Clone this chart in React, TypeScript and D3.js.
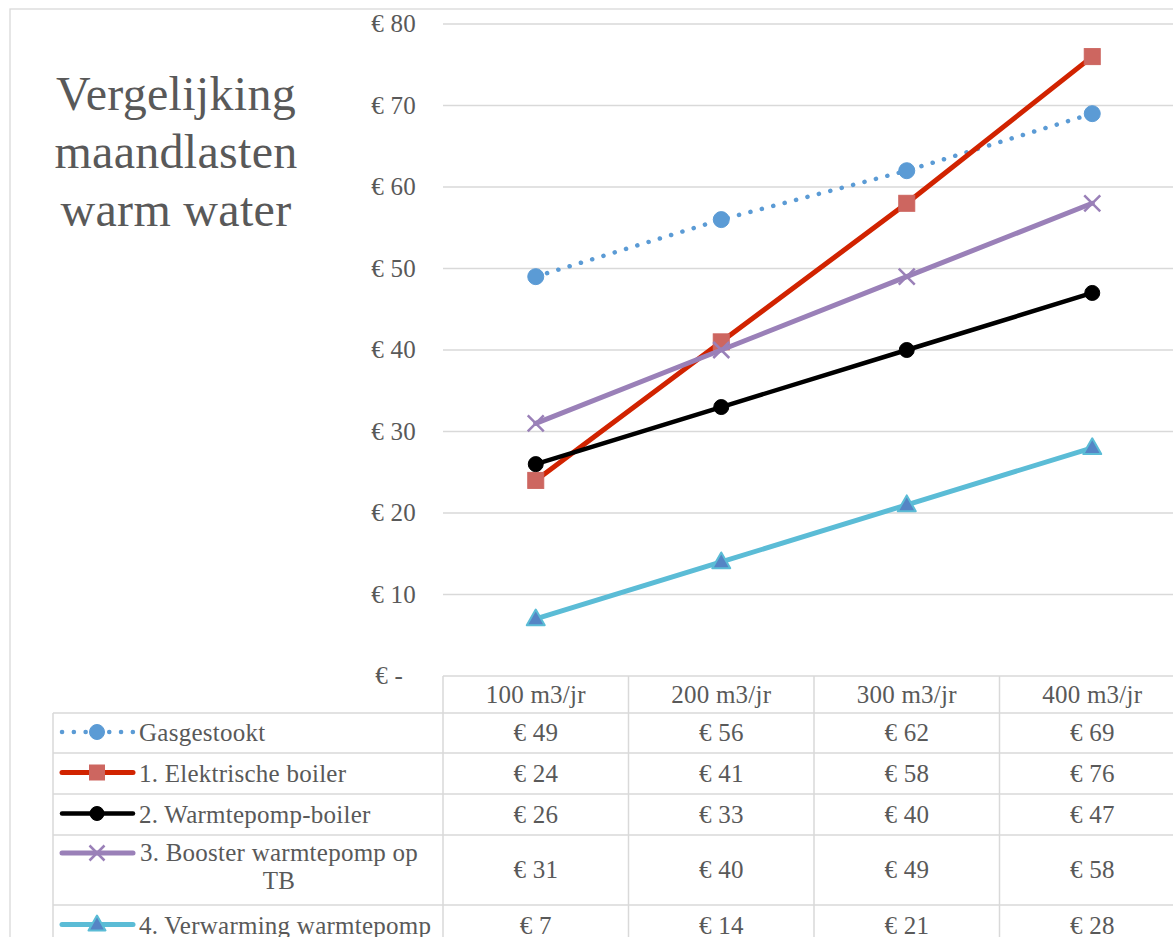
import React from "react";
import * as d3 from "d3";

const categories = ["100 m3/jr", "200 m3/jr", "300 m3/jr", "400 m3/jr"];
const seriesNames = [
  "Gasgestookt",
  "1. Elektrische boiler",
  "2. Warmtepomp-boiler",
  "3. Booster warmtepomp op TB",
  "4. Verwarming warmtepomp",
];
const gasgestookt = [49, 56, 62, 69];
const elektrisch = [24, 41, 58, 76];
const warmtepompBoiler = [26, 33, 40, 47];
const booster = [31, 40, 49, 58];
const verwarming = [7, 14, 21, 28];
const yTicks = [0, 10, 20, 30, 40, 50, 60, 70, 80];
const titleLines = ["Vergelijking", "maandlasten", "warm water"];

type Marker = "circle" | "square" | "x" | "triangle";
const styles: { line: string; marker: Marker; mfill: string; mstroke: string; dotted?: boolean; lw: number; ms: number }[] = [
  { line: "#5b9bd5", marker: "circle", mfill: "#5b9bd5", mstroke: "#5b9bd5", dotted: true, lw: 4.5, ms: 8 },
  { line: "#d12300", marker: "square", mfill: "#cd6660", mstroke: "#cd6660", lw: 5, ms: 8 },
  { line: "#000000", marker: "circle", mfill: "#000000", mstroke: "#000000", lw: 4.5, ms: 7.5 },
  { line: "#9a80b8", marker: "x", mfill: "none", mstroke: "#9a80b8", lw: 5, ms: 8 },
  { line: "#5bbcd6", marker: "triangle", mfill: "#5585c5", mstroke: "#5bbcd6", lw: 5, ms: 9 },
];
const seriesValues = [gasgestookt, elektrisch, warmtepompBoiler, booster, verwarming];

const FONT = "'Liberation Serif', 'Times New Roman', serif";
const TXT = "#595959";
const GRID = "#d9d9d9";
const FS = 25;
const LS = 0.25;

function MarkerShape({ kind, x, y, s, fill, stroke }: { kind: Marker; x: number; y: number; s: number; fill: string; stroke: string }) {
  if (kind === "circle") return <circle cx={x} cy={y} r={s} fill={fill} stroke={stroke} strokeWidth={1} />;
  if (kind === "square") return <rect x={x - s} y={y - s} width={2 * s} height={2 * s} fill={fill} stroke={stroke} strokeWidth={1} />;
  if (kind === "x")
    return (
      <path d={`M${x - s},${y - s}L${x + s},${y + s}M${x - s},${y + s}L${x + s},${y - s}`} stroke={stroke} strokeWidth={2.5} fill="none" />
    );
  const h = s * 1.75;
  return (
    <path d={`M${x},${y - h * 0.6}L${x + s},${y + h * 0.4}L${x - s},${y + h * 0.4}Z`} fill={fill} stroke={stroke} strokeWidth={2} strokeLinejoin="round" />
  );
}

export default function App() {
  const W = 1173;
  const H = 937;
  const x = d3.scaleBand<string>().domain(categories).range([443, 1185]).paddingInner(0).paddingOuter(0);
  const y = d3.scaleLinear().domain([0, 80]).range([676, 24]);
  const cx = (c: string) => (x(c) as number) + x.bandwidth() / 2;
  const line = d3
    .line<number>()
    .x((_, i) => cx(categories[i]))
    .y((d) => y(d));
  const fmt = (d: number) => (d === 0 ? "€ -\u00a0\u00a0" : `€ ${d}`);

  const tableLeft = 53;
  const headerTop = 676;
  const headerBottom = 713;
  const rowBounds = [713, 753, 794, 835, 905, 946];
  const colBounds = [443, ...categories.map((c) => (x(c) as number) + x.bandwidth())];
  const legendLineX0 = 62;
  const legendLineX1 = 133;
  const legendMarkerX = 97;
  const labelX = 139;

  return (
    <svg width={W} height={H} style={{ position: "absolute", left: 0, top: 0, background: "#fff" }} fontFamily={FONT}>
      <rect x={0} y={0} width={W} height={H} fill="#fff" />
      <rect x={10} y={9} width={1300} height={1100} fill="none" stroke={GRID} strokeWidth={1.3} />

      <text x={176} textAnchor="middle" fontSize={48} fill={TXT} letterSpacing={0.3}>
        {titleLines.map((t, i) => (
          <tspan key={t} x={176} y={110 + i * 58}>
            {t}
          </tspan>
        ))}
      </text>

      {yTicks.filter((t) => t > 0).map((t) => (
        <line key={t} x1={443} x2={1185} y1={y(t)} y2={y(t)} stroke={GRID} strokeWidth={1.3} />
      ))}
      {yTicks.map((t) => (
        <text key={"l" + t} x={416} y={y(t)} dy="0.33em" textAnchor="end" fontSize={FS} letterSpacing={LS} fill={TXT}>
          {fmt(t)}
        </text>
      ))}

      <g stroke={GRID} strokeWidth={1.5}>
        <line x1={443} x2={1185} y1={headerTop} y2={headerTop} />
        {rowBounds.map((r) => (
          <line key={"r" + r} x1={tableLeft} x2={1185} y1={r} y2={r} />
        ))}
        <line x1={tableLeft} x2={tableLeft} y1={headerBottom} y2={rowBounds[rowBounds.length - 1]} />
        {colBounds.map((c) => (
          <line key={"c" + c} x1={c} x2={c} y1={headerTop} y2={rowBounds[rowBounds.length - 1]} />
        ))}
      </g>

      {categories.map((c) => (
        <text key={c} x={cx(c)} y={(headerTop + headerBottom) / 2} dy="0.33em" textAnchor="middle" fontSize={FS} letterSpacing={LS} fill={TXT}>
          {c}
        </text>
      ))}

      {seriesNames.map((name, si) => {
        const top = rowBounds[si];
        const bot = rowBounds[si + 1];
        const mid = (top + bot) / 2;
        const st = styles[si];
        const wrapped = name === "3. Booster warmtepomp op TB";
        const symY = wrapped ? top + 18 : mid - 1;
        return (
          <g key={name}>
            <line
              x1={legendLineX0}
              x2={legendLineX1}
              y1={symY}
              y2={symY}
              stroke={st.line}
              strokeWidth={st.lw}
              strokeLinecap="round"
              strokeDasharray={st.dotted ? "0.1 11.7" : undefined}
            />
            <MarkerShape kind={st.marker} x={legendMarkerX} y={symY} s={st.ms - 0.5} fill={st.mfill} stroke={st.mstroke} />
            {wrapped ? (
              <text fontSize={FS} letterSpacing={LS} fill={TXT} textAnchor="middle">
                <tspan x={279} y={symY + 8}>3. Booster warmtepomp op</tspan>
                <tspan x={279} y={symY + 36}>TB</tspan>
              </text>
            ) : (
              <text x={labelX} y={mid} dy="0.33em" fontSize={FS} letterSpacing={LS} fill={TXT}>
                {name}
              </text>
            )}
            {seriesValues[si].map((v, ci) => (
              <text key={ci} x={cx(categories[ci])} y={mid} dy="0.33em" textAnchor="middle" fontSize={FS} letterSpacing={LS} fill={TXT}>
                {`€ ${v}`}
              </text>
            ))}
          </g>
        );
      })}

      {seriesValues.map((vals, si) => {
        const st = styles[si];
        return (
          <g key={"s" + si}>
            <path
              d={line(vals) || ""}
              fill="none"
              stroke={st.line}
              strokeWidth={st.lw}
              strokeLinecap="round"
              strokeLinejoin="round"
              strokeDasharray={st.dotted ? "0.1 11.7" : undefined}
            />
            {vals.map((v, i) => (
              <MarkerShape key={i} kind={st.marker} x={cx(categories[i])} y={y(v)} s={st.ms} fill={st.mfill} stroke={st.mstroke} />
            ))}
          </g>
        );
      })}
    </svg>
  );
}
